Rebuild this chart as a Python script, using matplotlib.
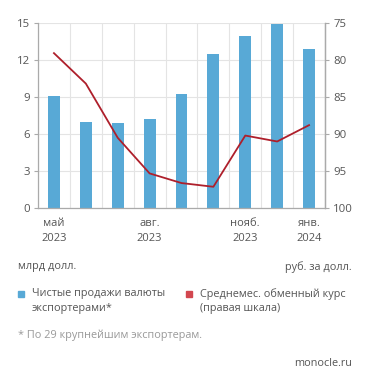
import matplotlib
matplotlib.use("Agg")
import matplotlib.pyplot as plt
import numpy as np

months = ["май\n2023", "", "", "авг.\n2023", "", "", "нояб.\n2023", "", "янв.\n2024"]
sales = [9.1, 7.0, 6.9, 7.2, 9.2, 12.5, 13.9, 14.9, 12.9]
rate = [79.1, 83.2, 90.5, 95.3, 96.6, 97.1, 90.2, 91.0, 88.8]
left_ticks = [0, 3, 6, 9, 12, 15]
right_ticks = [75, 80, 85, 90, 95, 100]

BLUE = "#58a9d6"
RED = "#ae1f2b"
TXT = "#555555"
GRID = "#e4e4e4"
SPINE = "#aaaaaa"

plt.rcParams["font.family"] = ["Open Sans", "DejaVu Sans"]

fig = plt.figure(figsize=(3.71, 3.84), dpi=100)
ax = fig.add_axes([38/371, 1-208.3/384, (325-38)/371, (208.3-22.7)/384])
x = np.arange(len(sales))
ax.bar(x, sales, width=0.37, color=BLUE, zorder=2)
ax.set_xlim(-0.5, len(sales)-0.5)
ax.set_ylim(0, 15)
ax.set_yticks(left_ticks)
ax.set_xticks(x)
ax.set_xticklabels(months, color=TXT, fontsize=8, linespacing=1.5)
ax.set_xticks(np.arange(-0.5, len(sales)), minor=True)
ax.tick_params(axis="x", which="both", length=0, pad=7)
ax.tick_params(axis="y", colors=SPINE, labelcolor=TXT, labelsize=8.2, length=3, pad=3)
ax.grid(axis="y", color=GRID, lw=0.8, zorder=0)
ax.grid(axis="x", which="minor", color=GRID, lw=0.8, zorder=0)
ax.spines["top"].set_visible(False)
for s in ["left", "right", "bottom"]:
    ax.spines[s].set_color(SPINE)
    ax.spines[s].set_linewidth(0.9)

ax2 = ax.twinx()
ax2.plot(x, rate, color=RED, lw=1.3, zorder=3)
ax2.set_ylim(100, 75)
ax2.set_yticks(right_ticks)
ax2.tick_params(axis="y", colors=SPINE, labelcolor=TXT, labelsize=8.2, length=3, pad=3)
for s in ["top", "left", "bottom"]:
    ax2.spines[s].set_visible(False)
ax2.spines["right"].set_color(SPINE)
ax2.spines["right"].set_linewidth(0.9)

def fy(py):
    return 1 - py/384

fig.text(18/371, fy(267), "млрд долл.", color=TXT, fontsize=7.8, va="center", ha="left")
fig.text(352/371, fy(267), "руб. за долл.", color=TXT, fontsize=7.8, va="center", ha="right")

fig.patches.append(plt.Rectangle((18/371, fy(297)), 6/371, 6/384, color=BLUE, transform=fig.transFigure, figure=fig))
fig.text(32/371, fy(301), "Чистые продажи валюты\nэкспортерами*", color=TXT, fontsize=7.8, va="center", ha="left", linespacing=1.4)
fig.patches.append(plt.Rectangle((186/371, fy(297)), 6/371, 6/384, color="#d2474f", transform=fig.transFigure, figure=fig))
fig.text(200/371, fy(301), "Среднемес. обменный курс\n(правая шкала)", color=TXT, fontsize=7.8, va="center", ha="left", linespacing=1.4)

fig.text(18/371, fy(335), "* По 29 крупнейшим экспортерам.", color="#999999", fontsize=7.8, va="center", ha="left")
fig.text(352/371, fy(363), "monocle.ru", color=TXT, fontsize=7.8, va="center", ha="right")

fig.savefig("out.png", dpi=100, facecolor="white")
